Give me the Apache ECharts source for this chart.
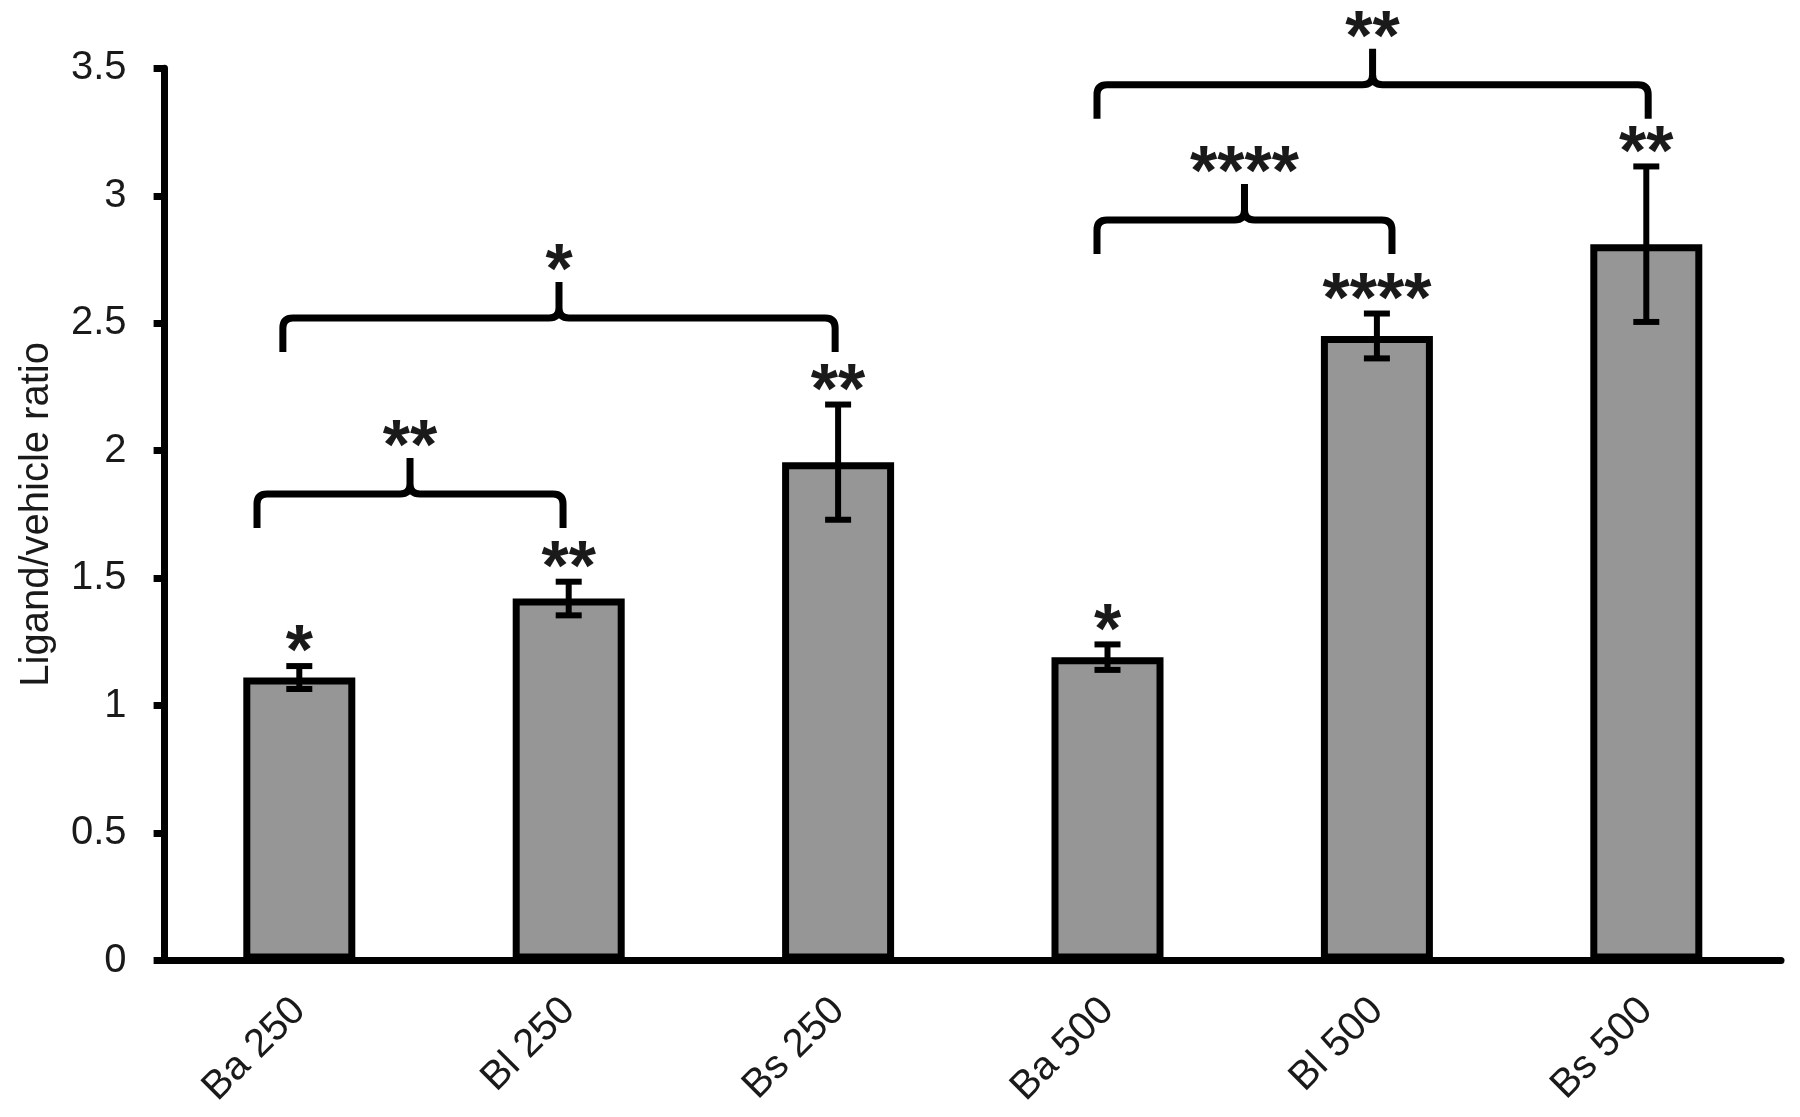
<!DOCTYPE html>
<html><head><meta charset="utf-8">
<script src="https://cdn.jsdelivr.net/npm/echarts@6/dist/echarts.min.js"></script>
<style>html,body{margin:0;padding:0;background:#fff}#c{width:1800px;height:1117px}</style>
</head><body><div id="c"></div>
<script>
// ---- data ----
const categories = ['Ba 250', 'Bl 250', 'Bs 250', 'Ba 500', 'Bl 500', 'Bs 500'];
const means = [1.11, 1.42, 1.955, 1.19, 2.45, 2.81];
const errors = [0.045, 0.066, 0.226, 0.05, 0.088, 0.305];
const barStars = ['*', '**', '**', '*', '****', '**'];
const yTicks = [0, 0.5, 1, 1.5, 2, 2.5, 3, 3.5];
// comparison brackets (x in category units, y in axis units)
const bracketFrom = [-0.157, -0.061, 2.961, 2.961];
const bracketTo = [0.979, 1.989, 4.056, 5.007];
const bracketY = [1.83, 2.52, 2.905, 3.435];
const bracketStars = ['**', '*', '****', '**'];

const FONT = '"Liberation Sans", Arial, sans-serif';
const TXT = '#1a1a1a';

const errData = means.map((m, i) => [i, m - errors[i], m + errors[i]]);
const bracketData = bracketFrom.map((f, i) => [f, bracketTo[i], bracketY[i]]);

function renderErr(params, api) {
  const i = api.value(0), lo = api.value(1), hi = api.value(2);
  const pHi = api.coord([i, hi]), pLo = api.coord([i, lo]);
  const hw = 13;
  const st = { stroke: '#000', lineWidth: 6 };
  return {
    type: 'group',
    children: [
      { type: 'line', shape: { x1: pHi[0], y1: pHi[1], x2: pLo[0], y2: pLo[1] }, style: st },
      { type: 'line', shape: { x1: pHi[0] - hw, y1: pHi[1], x2: pHi[0] + hw, y2: pHi[1] }, style: st },
      { type: 'line', shape: { x1: pLo[0] - hw, y1: pLo[1], x2: pLo[0] + hw, y2: pLo[1] }, style: st },
      { type: 'text', x: pHi[0], y: pHi[1] - 11,
        style: { text: barStars[params.dataIndex], fill: TXT, fontSize: 70, fontWeight: 'bold', fontFamily: FONT, align: 'center', verticalAlign: 'middle' } }
    ]
  };
}

function renderBracket(params, api) {
  const a = api.coord([api.value(0), api.value(2)]);
  const b = api.coord([api.value(1), api.value(2)]);
  const x1 = a[0], x2 = b[0], H = a[1], xc = (x1 + x2) / 2;
  const r = 10, leg = 34, peak = 36;
  const d = `M${x1},${H + leg} L${x1},${H + r} Q${x1},${H} ${x1 + r},${H} L${xc - r},${H} Q${xc},${H} ${xc},${H - r} L${xc},${H - peak}` +
            ` M${xc},${H - r} Q${xc},${H} ${xc + r},${H} L${x2 - r},${H} Q${x2},${H} ${x2},${H + r} L${x2},${H + leg}`;
  return {
    type: 'group',
    children: [
      { type: 'path', shape: { pathData: d }, style: { stroke: '#000', lineWidth: 7, fill: null, lineJoin: 'round' } },
      { type: 'text', x: xc, y: H - 44,
        style: { text: bracketStars[params.dataIndex], fill: TXT, fontSize: 70, fontWeight: 'bold', fontFamily: FONT, align: 'center', verticalAlign: 'middle' } }
    ]
  };
}

const chart = echarts.init(document.getElementById('c'), null, { renderer: 'canvas' });
chart.setOption({
  animation: false,
  backgroundColor: '#fff',
  grid: { left: 164.6, right: 19, top: 68.3, bottom: 156.5, containLabel: false, outerBoundsMode: 'none' },
  xAxis: [
    { type: 'category', data: categories,
      axisLine: { onZero: false, lineStyle: { color: '#000', width: 7 } },
      axisTick: { show: false },
      axisLabel: { rotate: 45, interval: 0, fontSize: 40, fontFamily: FONT, color: TXT, margin: 44 } },
    { type: 'value', min: -0.5, max: 5.5, show: false }
  ],
  yAxis: {
    type: 'value', min: yTicks[0], max: yTicks[yTicks.length - 1], interval: yTicks[1] - yTicks[0],
    name: 'Ligand/vehicle ratio', nameLocation: 'middle', nameGap: 108,
    nameTextStyle: { fontSize: 40, fontFamily: FONT, color: TXT },
    axisLine: { show: true, onZero: false, lineStyle: { color: '#000', width: 7 } },
    axisTick: { show: true, length: 11, lineStyle: { color: '#000', width: 7 } },
    axisLabel: { fontSize: 40, fontFamily: FONT, color: TXT, margin: 38 },
    splitLine: { show: false }
  },
  series: [
    { type: 'bar', data: means, barWidth: 112, itemStyle: { color: '#969696', borderColor: '#000', borderWidth: 7 } },
    { type: 'custom', renderItem: renderErr, data: errData, encode: { x: 0, y: [1, 2] }, z: 5 },
    { type: 'custom', xAxisIndex: 1, renderItem: renderBracket, data: bracketData, encode: { x: [0, 1], y: 2 }, z: 5 }
  ]
});
</script>
</body></html>
